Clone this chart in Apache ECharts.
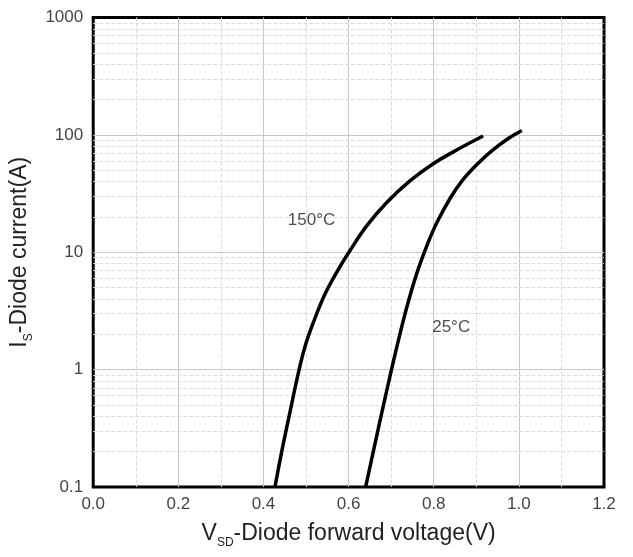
<!DOCTYPE html>
<html>
<head>
<meta charset="utf-8">
<script src="https://cdn.jsdelivr.net/npm/echarts@6/dist/echarts.min.js"></script>
<style>
  html, body { margin: 0; padding: 0; background: #fff; }
  #chart { width: 633px; height: 557px; }
</style>
</head>
<body>
<div id="chart"></div>
<script>
// diode forward characteristics
var v150 = [0.427, 0.444, 0.462, 0.482, 0.498, 0.517, 0.544, 0.576, 0.603, 0.642, 0.689, 0.744, 0.798, 0.856, 0.916];
var i150 = [0.1, 0.21, 0.43, 0.94, 1.59, 2.51, 4.37, 7.16, 10.3, 16.7, 26.4, 40.5, 56.5, 75, 97.7];

var v25 = [0.640, 0.664, 0.683, 0.701, 0.719, 0.737, 0.760, 0.786, 0.808, 0.839, 0.866, 0.902, 0.937, 0.976, 1.007];
var i25 = [0.1, 0.252, 0.519, 1.01, 1.9, 3.43, 6.58, 11.9, 18.1, 29, 40.4, 56.2, 73.4, 93.5, 109];

// curve notes
var noteText = ['150°C', '25°C'];
var noteV = [0.513, 0.841];
var noteI = [18.6, 2.29];

var decades = [0.1, 1, 10, 100];
var minorSteps = [2, 3, 4, 5, 6, 7, 8, 9];

function pairs(xs, ys) {
    var out = [];
    for (var k = 0; k < xs.length; k++) out.push([xs[k], ys[k]]);
    return out;
}

// dashed minor lines for the log axis (2..9 in each decade)
var minorLines = [];
decades.forEach(function (d) {
    minorSteps.forEach(function (m) {
        minorLines.push({ yAxis: +(d * m).toPrecision(3) });
    });
});

var notes = [];
for (var k = 0; k < noteText.length; k++) {
    notes.push({ value: [noteV[k], noteI[k]], text: noteText[k] });
}

var myChart = echarts.init(document.getElementById('chart'));

var curveStyle = { color: '#000', width: 3.5 };
var titleRich = {
    a: { fontFamily: 'Liberation Sans', fontSize: 23, color: '#222', lineHeight: 26 },
    s: { fontFamily: 'Liberation Sans', fontSize: 12, color: '#222', padding: [18, 0, 0, 0] }
};

var option = {
    backgroundColor: '#fff',
    animation: false,
    grid: {
        left: 92,
        right: 29,
        top: 17.5,
        bottom: 70,
        show: true,
        borderColor: '#000',
        borderWidth: 3,
        backgroundColor: 'transparent'
    },
    xAxis: {
        type: 'value',
        min: 0,
        max: 1.2,
        interval: 0.2,
        axisLine: { show: false },
        axisTick: { show: false },
        axisLabel: {
            margin: 9,
            fontFamily: 'Liberation Sans',
            fontSize: 17,
            color: '#444',
            formatter: function (v) { return v.toFixed(1); }
        },
        splitLine: { show: true, showMinLine: false, showMaxLine: false, lineStyle: { color: '#c8c8c8', width: 1 } },
        minorTick: { show: false, splitNumber: 2 },
        minorSplitLine: { show: true, lineStyle: { color: '#dcdcdc', type: 'dashed', width: 1 } },
        name: '{a|V}{s|SD}{a|-Diode forward voltage(V)}',
        nameLocation: 'middle',
        nameGap: 32,
        nameTextStyle: { rich: titleRich }
    },
    yAxis: {
        type: 'log',
        logBase: 10,
        min: 0.1,
        max: 1000,
        axisLine: { show: false },
        axisTick: { show: false },
        axisLabel: {
            margin: 10,
            fontFamily: 'Liberation Sans',
            fontSize: 17,
            color: '#444',
            formatter: function (v) { return v < 1 ? String(+v.toFixed(1)) : String(Math.round(v)); }
        },
        splitLine: { show: true, showMinLine: false, showMaxLine: false, lineStyle: { color: '#c8c8c8', width: 1 } },
        name: '{a|I}{s|S}{a|-Diode current(A)}',
        nameLocation: 'middle',
        nameGap: 44,
        nameTextStyle: { rich: titleRich }
    },
    series: [
        {
            name: 'minor grid',
            type: 'line',
            data: [],
            z: 1,
            silent: true,
            markLine: {
                silent: true,
                symbol: ['none', 'none'],
                label: { show: false },
                lineStyle: { color: '#dcdcdc', type: 'dashed', width: 1 },
                data: minorLines
            }
        },
        {
            name: '150°C',
            type: 'line',
            data: pairs(v150, i150),
            smooth: 0.4,
            showSymbol: false,
            z: 5,
            lineStyle: curveStyle
        },
        {
            name: '25°C',
            type: 'line',
            data: pairs(v25, i25),
            smooth: 0.4,
            showSymbol: false,
            z: 5,
            lineStyle: curveStyle
        },
        {
            name: 'notes',
            type: 'scatter',
            data: notes,
            symbol: 'circle',
            symbolSize: 2,
            silent: true,
            z: 6,
            itemStyle: { color: 'rgba(0,0,0,0)' },
            label: {
                show: true,
                position: 'inside',
                fontFamily: 'Liberation Sans',
                fontSize: 17,
                color: '#222',
                formatter: function (p) { return p.data.text; }
            }
        }
    ]
};

myChart.setOption(option);
</script>
</body>
</html>
